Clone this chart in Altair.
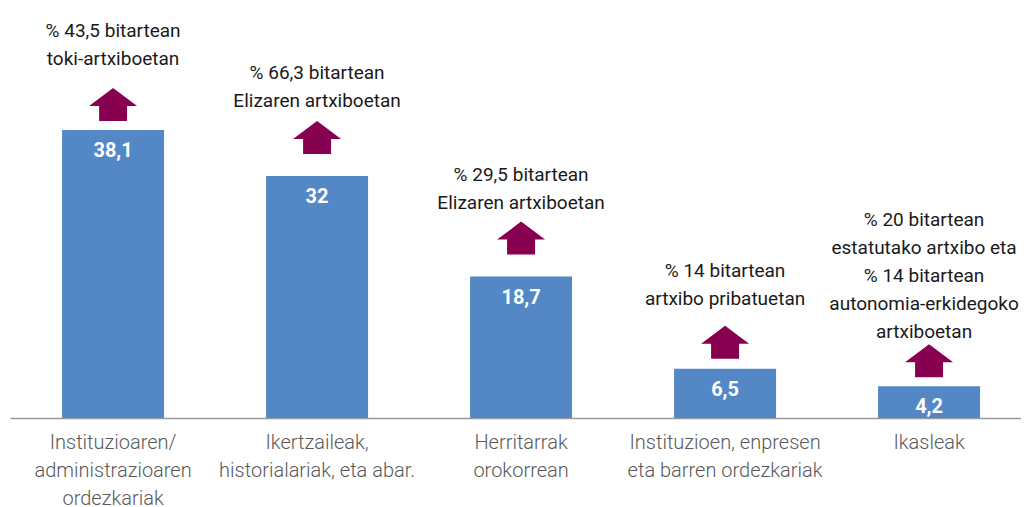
import altair as alt
import pandas as pd

categories = [
    "Instituzioaren/|administrazioaren|ordezkariak",
    "Ikertzaileak,|historialariak, eta abar.",
    "Herritarrak|orokorrean",
    "Instituzioen, enpresen|eta barren ordezkariak",
    "Ikasleak",
]
values = [38.1, 32, 18.7, 6.5, 4.2]
notes = [
    "% 43,5 bitartean|toki-artxiboetan",
    "% 66,3 bitartean|Elizaren artxiboetan",
    "% 29,5 bitartean|Elizaren artxiboetan",
    "% 14 bitartean|artxibo pribatuetan",
    "% 20 bitartean|estatutako artxibo eta|% 14 bitartean|autonomia-erkidegoko|artxiboetan",
]

# style only: pixel gaps (bar top -> arrow bottom, arrow tip -> last note baseline), note x nudge
arrow_gap = [9, 22, 22, 10, 9]
note_gap = [23, 14, 13, 21, 6]
note_dx = [0, 0, 0, 0, -5]
LINE_H = 28

FONT = "Roboto"
BAR = "#5387C6"
ARROW_COLOR = "#880050"
ARROW = "M0,-0.6875 L1,0.0625 L0.583,0.0625 L0.583,0.6875 L-0.583,0.6875 L-0.583,0.0625 L-1,0.0625 Z"

df = pd.DataFrame({"cat": categories, "value": values, "note": notes})

x = alt.X(
    "cat:N",
    sort=categories,
    scale=alt.Scale(paddingInner=0.5, paddingOuter=0.228, align=0.56),
    axis=alt.Axis(
        title=None,
        labelExpr="split(datum.label, '|')",
        labelAngle=0,
        ticks=False,
        tickSize=0,
        labelPadding=14,
        labelFontSize=20,
        labelFont=FONT,
        labelFontWeight=300,
        labelColor="#595959",
        labelLineHeight=28,
        labelBaseline="top",
        labelLimit=400,
        domainColor="#9a9a9a",
        domainWidth=1.5,
        grid=False,
    ),
)
y = alt.Y("value:Q", scale=alt.Scale(domain=[0, 54.23], nice=False), axis=None)

base = alt.Chart(df).encode(x=x, y=y)

bars = base.mark_bar(color=BAR)
vals = base.transform_calculate(
    lbl="replace(format(datum.value, '.1~f'), '.', ',')"
).mark_text(
    baseline="middle", dy=21, color="white", fontWeight="bold", fontSize=20, font=FONT
).encode(text="lbl:N")

layers = [bars, vals]
for i, c in enumerate(categories):
    n_lines = len(notes[i].split("|"))
    sub = base.transform_filter(alt.datum.cat == c)
    arrow = sub.mark_point(
        shape=ARROW, size=2304, filled=True, color=ARROW_COLOR, opacity=1,
        strokeWidth=0, yOffset=-(arrow_gap[i] + 16.5)
    )
    note = sub.transform_calculate(lines="split(datum.note, '|')").mark_text(
        baseline="bottom", lineHeight=LINE_H, fontSize=19, font=FONT, color="#1a1a1a",
        dx=note_dx[i],
        dy=-(arrow_gap[i] + 33 + note_gap[i] - 4) - (n_lines - 1) * LINE_H
    ).encode(text="lines:N")
    layers += [arrow, note]

chart = alt.layer(*layers).properties(
    width=1011,
    height=410,
    autosize=alt.AutoSizeParams(type="none"),
    padding={"left": 2, "top": 0, "right": 0, "bottom": 95},
).configure_view(strokeWidth=0)

chart.save("out.html", embed_options={"renderer": "svg", "actions": False})
